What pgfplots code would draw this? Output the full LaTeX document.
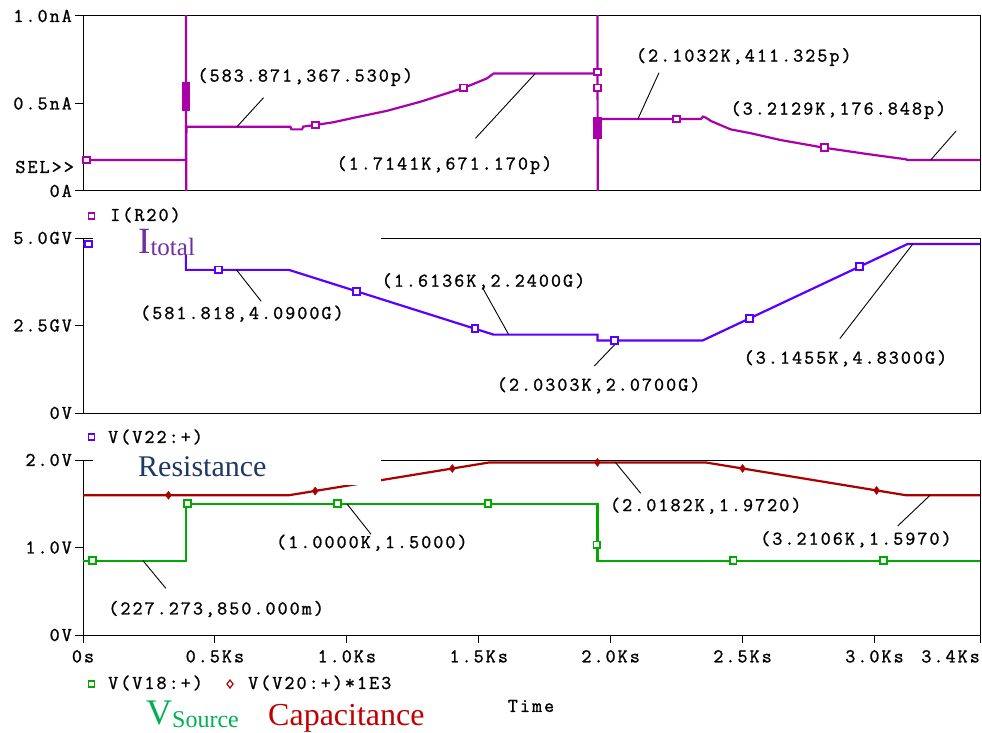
\documentclass[border=0pt]{standalone}
\usepackage{fontspec}
\usepackage{pgfplots}
\pgfplotsset{compat=1.18}
\setmainfont{Liberation Serif}
\newfontfamily\psfont{Latin Modern Mono}[LetterSpace=10.5, FakeBold=1.2]
\newcommand\pstext{\psfont\fontsize{19.5}{22}\selectfont}

\definecolor{trI}{RGB}{170,0,170}
\definecolor{trV}{RGB}{90,0,255}
\definecolor{trG}{RGB}{0,170,0}
\definecolor{trR}{RGB}{170,0,0}
\definecolor{lbI}{RGB}{112,48,160}
\definecolor{lbRes}{RGB}{31,56,100}
\definecolor{lbVs}{RGB}{0,176,80}
\definecolor{lbCap}{RGB}{192,0,0}

\tikzset{leader/.style={black, line width=0.9pt}}
\pgfplotsset{
  spice/.style={
    scale only axis, width=897pt, height=175pt, anchor=south west,
    xmin=0, xmax=3.4,
    axis line style={line width=1pt, black},
    tick align=outside, tick pos=left, major tick length=8pt,
    tick style={line width=1pt, black},
    ticklabel style={font=\pstext, inner sep=0pt},
    yticklabel style={anchor=east, xshift=-3pt},
    xticklabel style={yshift=-7pt},
    xtick=\empty,
  },
  trace/.style={#1, line width=2.2pt},
  marks/.style={#1, only marks, mark=square*, mark size=3.4pt,
    mark options={fill=white, line width=1.9pt}},
  block/.style={#1, only marks, mark=square*, mark size=3.2pt,
    mark options={fill=#1, line width=1.8pt}},
}

\begin{document}
\begin{tikzpicture}[x=1pt,y=1pt]
\useasboundingbox (0,0) rectangle (982,732);

% ---------------- I(R20) ----------------
\begin{axis}[spice, at={(83pt,541pt)}, ymin=0, ymax=1,
  ytick={0,0.5,1}, yticklabels={0A,0.5nA,1.0nA}]
\addplot[trace=trI] coordinates {
  (0,0.176848)(0.39,0.176848)(0.39,1.2)(0.391,-0.1)(0.392,0.36753)
  (0.583871,0.36753)(0.786,0.36753)(0.79,0.352)(0.83,0.352)(0.835,0.368)
  (0.88,0.377)(0.95,0.393)(1.025,0.418)(1.152,0.458)(1.279,0.51)
  (1.443,0.589)(1.532,0.644)(1.556,0.67117)(1.7141,0.67117)(1.95,0.67117)
  (1.95,1.2)(1.951,-0.1)(1.952,0.411325)(2.1032,0.411325)(2.342,0.411325)
  (2.35,0.425)(2.36,0.42)(2.38,0.40)(2.455,0.352)(2.531,0.33)(2.645,0.291)
  (2.81,0.247)(2.974,0.211)(3.12,0.181)(3.125,0.176848)(3.2129,0.176848)
  (3.4,0.176848)};
\addplot[marks=trI] coordinates {
  (0.012,0.176848)(0.88,0.377)(1.443,0.589)(1.95,0.68)(1.95,0.589)
  (2.25,0.411325)(2.81,0.247)};
\addplot[block=trI] coordinates {
  (0.39,0.48)(0.39,0.52)(0.39,0.56)(0.39,0.60)
  (1.95,0.32)(1.95,0.36)(1.95,0.40)};
\draw[leader] (axis cs:0.583871,0.36753) -- (axis cs:0.6843,0.5331);
\draw[leader] (axis cs:1.7141,0.67117) -- (axis cs:1.4877,0.3011);
\draw[leader] (axis cs:2.1032,0.411325) -- (axis cs:2.1833,0.676);
\draw[leader] (axis cs:3.2129,0.176848) -- (axis cs:3.3093,0.3429);
\node[font=\pstext] at (axis cs:0.8425,0.6514) {(583.871,367.530p)};
\node[font=\pstext] at (axis cs:1.370,0.1486) {(1.7141K,671.170p)};
\node[font=\pstext] at (axis cs:2.5047,0.7657) {(2.1032K,411.325p)};
\node[font=\pstext] at (axis cs:2.8634,0.4629) {(3.2129K,176.848p)};
\end{axis}

% ---------------- V(V22:+) ----------------
\begin{axis}[spice, at={(83pt,319pt)}, ymin=0, ymax=5,
  ytick={0,2.5,5}, yticklabels={0V,2.5GV,5.0GV}]
\addplot[trace=trV] coordinates {
  (0,4.83)(0.39,4.83)(0.39,4.09)(0.581818,4.09)(0.78,4.09)(1.556,2.24)
  (1.6136,2.24)(1.95,2.24)(1.95,2.07)(2.0303,2.07)(2.348,2.07)(3.126,4.83)
  (3.1455,4.83)(3.4,4.83)};
\addplot[marks=trV] coordinates {
  (0.02,4.83)(0.514,4.09)(1.036,3.48)(1.486,2.407)(2.015,2.07)
  (2.525,2.698)(2.942,4.177)};
\draw[leader] (axis cs:0.581818,4.09) -- (axis cs:0.6755,3.191);
\draw[leader] (axis cs:1.6136,2.24) -- (axis cs:1.5142,3.583);
\draw[leader] (axis cs:2.0303,2.07) -- (axis cs:1.938,1.343);
\draw[leader] (axis cs:3.1455,4.83) -- (axis cs:2.8687,2.126);
\node[font=\pstext] at (axis cs:0.6023,2.84) {(581.818,4.0900G)};
\node[font=\pstext] at (axis cs:1.518,3.763) {(1.6136K,2.2400G)};
\node[font=\pstext] at (axis cs:1.9545,0.791) {(2.0303K,2.0700G)};
\node[font=\pstext] at (axis cs:2.890,1.563) {(3.1455K,4.8300G)};
\end{axis}

% ---------------- V(V18:+) and V(V20:+)*1E3 ----------------
\begin{axis}[spice, at={(83pt,97pt)}, ymin=0, ymax=2,
  ytick={0,1,2}, yticklabels={0V,1.0V,2.0V},
  xtick={0,0.5,1,1.5,2,2.5,3},
  xticklabels={0s,0.5Ks,1.0Ks,1.5Ks,2.0Ks,2.5Ks,3.0Ks},
  extra x ticks={3.4}, extra x tick labels={3.4Ks},
  extra x tick style={xticklabel style={anchor=north east}}]
\addplot[trace=trR] coordinates {
  (0,1.597)(0.78,1.597)(1.54,1.972)(2.0182,1.972)(2.36,1.972)(3.12,1.597)
  (3.2106,1.597)(3.4,1.597)};
\addplot[trace=trG] coordinates {
  (0,0.85)(0.227273,0.85)(0.39,0.85)(0.39,1.5)(1.0,1.5)(1.95,1.5)
  (1.95,0.85)(3.4,0.85)};
\addplot[trR, only marks, mark=diamond*, mark size=4pt] coordinates {
  (0.324,1.597)(0.88,1.646)(1.40,1.903)(1.95,1.972)(2.50,1.903)(3.008,1.652)};
\addplot[marks=trG] coordinates {
  (0.037,0.85)(0.397,1.5)(0.965,1.5)(1.535,1.5)(1.948,1.03)(2.464,0.85)
  (3.035,0.85)};
\draw[leader] (axis cs:0.227273,0.85) -- (axis cs:0.3139,0.5337);
\draw[leader] (axis cs:1.0,1.5) -- (axis cs:1.0918,1.1509);
\draw[leader] (axis cs:2.0182,1.972) -- (axis cs:2.1139,1.6194);
\draw[leader] (axis cs:3.2106,1.597) -- (axis cs:3.0880,1.2457);
\node[font=\pstext] at (axis cs:0.5047,0.297) {(227.273,850.000m)};
\node[font=\pstext] at (axis cs:1.0949,1.0549) {(1.0000K,1.5000)};
\node[font=\pstext] at (axis cs:2.3605,1.4777) {(2.0182K,1.9720)};
\node[font=\pstext] at (axis cs:2.9298,1.0937) {(3.2106K,1.5970)};
\end{axis}

% text boxes laid over the plots
\fill[white] (93,477) rectangle (381,508);
\fill[white] (93,247) rectangle (381,286);

% trace legends
\node[font=\pstext, anchor=east, inner sep=0pt] at (74,565) {SEL>>};
\draw[trI, line width=1.3pt] (88.5,513) rectangle (94.5,519);
\node[font=\pstext, anchor=west, inner sep=0pt] at (110,517) {I(R20)};
\draw[trV, line width=1.3pt] (88.5,292) rectangle (94.5,298);
\node[font=\pstext, anchor=west, inner sep=0pt] at (108,295) {V(V22:+)};
\draw[trG, line width=1.3pt] (88.5,45) rectangle (94.5,51);
\node[font=\pstext, anchor=west, inner sep=0pt] at (108,49) {V(V18:+)};
\draw[trR, line width=1.2pt] (230,52) -- (233,48) -- (230,44) -- (227,48) -- cycle;
\node[font=\pstext, anchor=west, inner sep=0pt] at (248,49) {V(V20:+)*1E3};
\node[font=\pstext] at (531,26) {Time};

% quantity names
\node[anchor=base west, inner sep=0pt, text=lbI, font=\fontsize{37}{40}\selectfont]
  at (138,478) {I\raisebox{-1.5pt}{\fontsize{25}{28}\selectfont total}};
\node[anchor=base west, inner sep=0pt, text=lbRes, font=\fontsize{30}{34}\selectfont]
  at (138,256) {Resistance};
\node[anchor=base west, inner sep=0pt, text=lbVs, font=\fontsize{36}{40}\selectfont]
  at (146,8) {V\raisebox{-3pt}{\fontsize{24}{28}\selectfont Source}};
\node[anchor=base west, inner sep=0pt, text=lbCap, font=\fontsize{32}{36}\selectfont]
  at (268,7) {Capacitance};
\end{tikzpicture}
\end{document}
